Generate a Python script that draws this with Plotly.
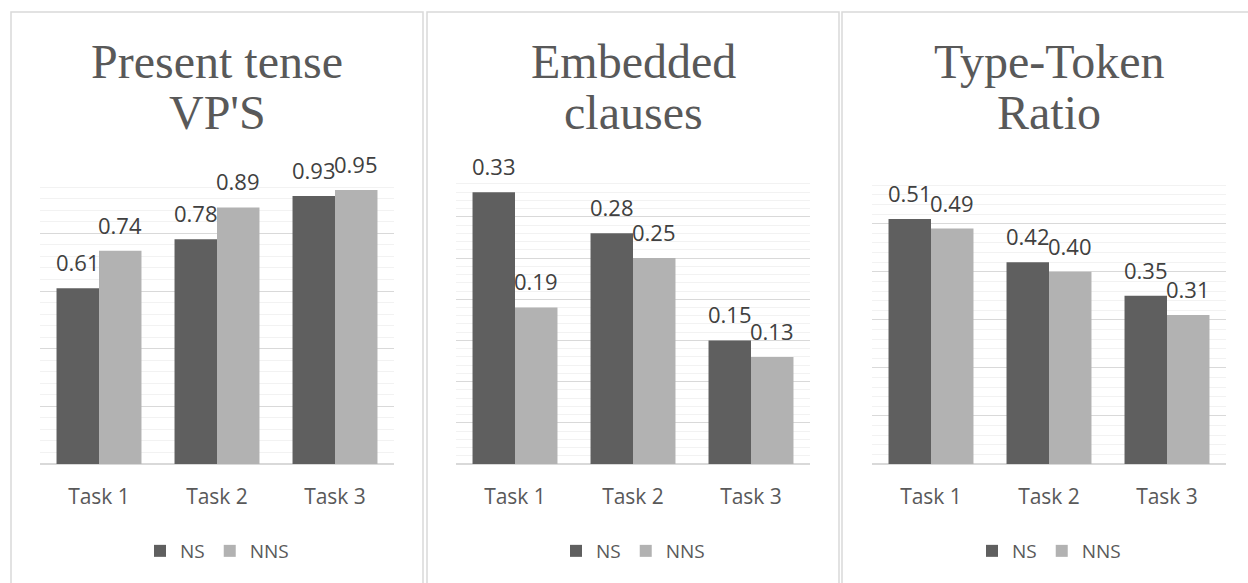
import plotly.graph_objects as go

W, H = 1248, 583

categories = ["Task 1", "Task 2", "Task 3"]
series_names = ["NS", "NNS"]

titles = [["Present tense", "VP'S"], ["Embedded", "clauses"], ["Type-Token", "Ratio"]]
ns_values = [[0.61, 0.78, 0.93], [0.33, 0.28, 0.15], [0.51, 0.42, 0.35]]
nns_values = [[0.74, 0.89, 0.95], [0.19, 0.25, 0.13], [0.49, 0.40, 0.31]]
label_text_ns = [["0.61", "0.78", "0.93"], ["0.33", "0.28", "0.15"], ["0.51", "0.42", "0.35"]]
label_text_nns = [["0.74", "0.89", "0.95"], ["0.19", "0.25", "0.13"], ["0.49", "0.40", "0.31"]]
y_max = [1.0, 0.35, 0.6]
y_major = [0.2, 0.05, 0.1]
y_minor = [0.04, 0.01, 0.02]

colors = ["#5f5f5f", "#b2b2b2"]
text_color = "#595959"
label_color = "#404040"

# layout geometry in pixels
plot_x = [(40, 394), (456, 810), (872, 1226)]
plot_y = (175.7, 464)
panel_x = [(11, 423), (427, 839), (842, 1252)]
panel_top = 12
title_y = [61, 113]
legend_y = 551


def px(x):
    return x / W


def py(y):
    return 1 - y / H


fig = go.Figure()
annotations = []
shapes = []
legend_names = ["legend", "legend2", "legend3"]

for i in range(3):
    ax = "" if i == 0 else str(i + 1)
    xa, ya = "x" + ax, "y" + ax
    for s, (name, vals) in enumerate(zip(series_names, [ns_values[i], nns_values[i]])):
        fig.add_trace(go.Bar(
            x=categories, y=vals, name=name, marker_color=colors[s],
            marker_line_width=0, xaxis=xa, yaxis=ya,
            legend=legend_names[i], showlegend=True, hoverinfo="x+y",
        ))
    for s, texts in enumerate([label_text_ns[i], label_text_nns[i]]):
        vals = [ns_values[i], nns_values[i]][s]
        for c, t, v in zip(categories, texts, vals):
            annotations.append(dict(
                x=c, y=v, xref=xa, yref=ya, text=t, showarrow=False,
                xshift=-21 if s == 0 else 21, yshift=9, yanchor="bottom",
                font=dict(family="Open Sans", size=22, color=label_color),
            ))
    cx = (plot_x[i][0] + plot_x[i][1]) / 2
    for line, ty in zip(titles[i], title_y):
        annotations.append(dict(
            x=px(cx), y=py(ty), xref="paper", yref="paper", text=line,
            showarrow=False, xanchor="center", yanchor="middle",
            font=dict(family="Liberation Serif", size=48, color=text_color),
        ))
    shapes.append(dict(
        type="rect", xref="paper", yref="paper",
        x0=px(panel_x[i][0]), x1=px(panel_x[i][1]), y0=py(600), y1=py(panel_top),
        line=dict(color="#d9d9d9", width=1.5), fillcolor="rgba(0,0,0,0)", layer="below",
    ))
    xaxis = dict(
        domain=[px(plot_x[i][0]), px(plot_x[i][1])], anchor=ya,
        showgrid=False, zeroline=False, showline=False, ticks="",
        ticklabelstandoff=18,
        tickfont=dict(family="Open Sans", size=21, color=text_color),
        fixedrange=True,
    )
    yaxis = dict(
        domain=[py(plot_y[1]), py(plot_y[0])], anchor=xa,
        range=[0, y_max[i]], dtick=y_major[i], tick0=0,
        showticklabels=False, showgrid=True, gridcolor="#d9d9d9", gridwidth=1,
        zeroline=True, zerolinecolor="#d9d9d9", zerolinewidth=1.5, showline=False,
        minor=dict(dtick=y_minor[i], tick0=0, showgrid=True, gridcolor="#f2f2f2", gridwidth=1),
        fixedrange=True,
    )
    fig.layout["xaxis" + ax] = xaxis
    fig.layout["yaxis" + ax] = yaxis
    fig.layout[legend_names[i]] = dict(
        orientation="h", x=px(cx), xanchor="center", y=py(legend_y), yanchor="middle",
        font=dict(family="Open Sans", size=19, color=text_color),
        itemwidth=30, bgcolor="rgba(0,0,0,0)", traceorder="normal",
    )

fig.update_layout(
    width=W, height=H, margin=dict(l=0, r=0, t=0, b=0),
    paper_bgcolor="white", plot_bgcolor="white",
    barmode="group", bargap=0.28, bargroupgap=0,
    annotations=annotations, shapes=shapes,
)

fig.write_html("out.html", config={"displayModeBar": False},
               post_script="document.body.style.margin='0';")
